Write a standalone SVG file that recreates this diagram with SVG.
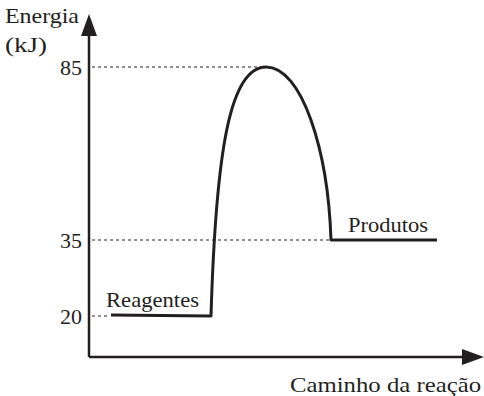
<svg xmlns="http://www.w3.org/2000/svg" width="484" height="396" viewBox="0 0 484 396">
<style>
text{font-family:"Liberation Serif","Times New Roman",serif;font-size:22px;fill:#231f20}
.ax{stroke:#231f20;stroke-width:2.5;fill:none}
.dot{stroke:#231f20;stroke-width:1;stroke-dasharray:3 3;fill:none}
.curve{stroke:#231f20;stroke-width:3;fill:none;stroke-linejoin:round}
</style>
<rect width="484" height="396" fill="#fff"/>
<g id="axes">
<path class="ax" d="M89,357 V30 M89,357 H470"/>
<path d="M81,36 L89,14 L97,36 Z" fill="#231f20"/>
<path d="M462,349 L484,357 L462,365 Z" fill="#231f20"/>
</g>
<g id="guides">
<path class="dot" d="M92,67 H262 M92,240 H330 M92,316 H110"/>
</g>
<g id="curve">
<path class="curve" d="M111,315 L211,316 C216,150 230,67 266,67 C302,67 328,150 331,240 L437,240"/>
</g>
<g id="labels">
<text x="5" y="23" textLength="74" lengthAdjust="spacingAndGlyphs">Energia</text>
<text x="5" y="52" textLength="42" lengthAdjust="spacingAndGlyphs">(kJ)</text>
<text x="82" y="75" text-anchor="end">85</text>
<text x="82" y="248" text-anchor="end">35</text>
<text x="82" y="324" text-anchor="end">20</text>
<text x="106" y="307" textLength="93" lengthAdjust="spacingAndGlyphs">Reagentes</text>
<text x="348" y="232" textLength="80" lengthAdjust="spacingAndGlyphs">Produtos</text>
<text x="290" y="392" textLength="191" lengthAdjust="spacingAndGlyphs">Caminho da reação</text>
</g>
</svg>
